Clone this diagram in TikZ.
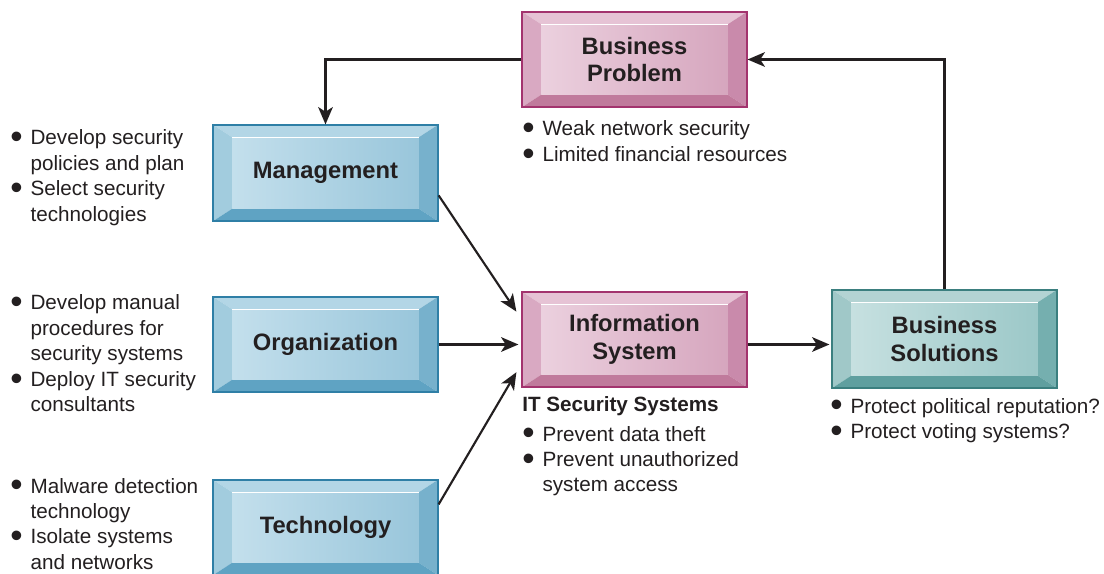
\documentclass[tikz,border=0pt]{standalone}
\usepackage{fontspec}
\setmainfont{Liberation Sans}
\usetikzlibrary{calc,backgrounds,arrows.meta}

\definecolor{ink}{HTML}{231F20}
% pink
\definecolor{pkT}{HTML}{E6C3D5}
\definecolor{pkL}{HTML}{D9A9C2}
\definecolor{pkR}{HTML}{C98AAB}
\definecolor{pkB}{HTML}{C07A9C}
\definecolor{pkFa}{HTML}{EBD0DE}
\definecolor{pkFb}{HTML}{D6A6BE}
\definecolor{pkD}{HTML}{A3336E}
% blue
\definecolor{blT}{HTML}{B3D6E6}
\definecolor{blL}{HTML}{A2CCDE}
\definecolor{blR}{HTML}{77B1CC}
\definecolor{blB}{HTML}{5FA3C3}
\definecolor{blFa}{HTML}{C3DFEC}
\definecolor{blFb}{HTML}{99C6DB}
\definecolor{blD}{HTML}{2F7FA6}
% teal
\definecolor{tlT}{HTML}{B3D3D3}
\definecolor{tlL}{HTML}{A0C8C8}
\definecolor{tlR}{HTML}{75AFAF}
\definecolor{tlB}{HTML}{5F9F9F}
\definecolor{tlFa}{HTML}{C6E0E0}
\definecolor{tlFb}{HTML}{9CC8C8}
\definecolor{tlD}{HTML}{3B7F7F}

\tikzset{
  boxtitle/.style={font=\bfseries\fontsize{17.8pt}{20.5pt}\selectfont, text=ink,
    align=center, inner sep=0pt, line width=0.9pt},
  bodytext/.style={font=\fontsize{15.5pt}{19.1pt}\selectfont, text=ink,
    inner sep=0pt, anchor=base west},
  conn/.style={draw=ink, line width=1.6pt,
    -{Stealth[length=13pt,width=11pt,inset=3.5pt]}}
}

\newcommand\bevbox[6]{%
  \node[boxtitle, draw=#5D, minimum width=#3*0.75pt, minimum height=#4*0.75pt] (#1) at #2 {#6};
  \begin{scope}[on background layer]
    \coordinate (#1-a) at ($(#1.north west)+(20,13)$);
    \coordinate (#1-b) at ($(#1.north east)+(-20,13)$);
    \coordinate (#1-c) at ($(#1.south east)+(-20,-13)$);
    \coordinate (#1-d) at ($(#1.south west)+(20,-13)$);
    \fill[#5T] (#1.north west) -- (#1.north east) -- (#1-b) -- (#1-a) -- cycle;
    \fill[#5L] (#1.north west) -- (#1-a) -- (#1-d) -- (#1.south west) -- cycle;
    \fill[#5R] (#1.north east) -- (#1.south east) -- (#1-c) -- (#1-b) -- cycle;
    \fill[#5B] (#1.south west) -- (#1-d) -- (#1-c) -- (#1.south east) -- cycle;
    \shade[left color=#5Fa, right color=#5Fb] (#1-a) rectangle (#1-c);
    \draw[white, line width=0.8pt] (#1-a) -- (#1-b);
  \end{scope}%
}

\newcommand\bigbul{\smash{\raisebox{-0.18em}{\scalebox{1.7}{\textbullet}}}}
\newcommand\blist[1]{\begin{tabular}[t]{@{}l@{\hspace{6pt}}l@{}}#1\end{tabular}}

\begin{document}
\begin{tikzpicture}[x=0.75pt,y=-0.75pt]
  \useasboundingbox (0,0) rectangle (1104,574);
  \begin{scope}[on background layer]
    \fill[white] (0,0) rectangle (1104,574);
  \end{scope}

  \bevbox{bp}{(634.5,59.5)}{225}{95}{pk}{Business\\Problem}
  \bevbox{mg}{(325.5,173)}{225}{96}{bl}{Management}
  \bevbox{og}{(325.5,344.5)}{225}{95}{bl}{Organization}
  \bevbox{tc}{(325.5,527.5)}{225}{95}{bl}{Technology}
  \bevbox{is}{(634.5,339.5)}{225}{95}{pk}{Information\\System}
  \bevbox{bs}{(944.5,339)}{225}{98}{tl}{Business\\Solutions}

  \node[bodytext] (mgl) at (10,145) {\blist{\bigbul & Develop security\\ & policies and plan\\ \bigbul & Select security\\ & technologies}};
  \node[bodytext] (ogl) at (10,310) {\blist{\bigbul & Develop manual\\ & procedures for\\ & security systems\\ \bigbul & Deploy IT security\\ & consultants}};
  \node[bodytext] (tcl) at (10,493) {\blist{\bigbul & Malware detection\\ & technology\\ \bigbul & Isolate systems\\ & and networks}};
  \node[bodytext] (bpl) at (522,136) {\blist{\bigbul & Weak network security\\ \bigbul & Limited financial resources}};
  \node[bodytext, font=\bfseries\fontsize{15.5pt}{19.1pt}\selectfont] (ish) at (522,411) {IT Security Systems};
  \node[bodytext] (isl) at (522,441) {\blist{\bigbul & Prevent data theft\\ \bigbul & Prevent unauthorized\\ & system access}};
  \node[bodytext] (bsl) at (830,413) {\blist{\bigbul & Protect political reputation?\\ \bigbul & Protect voting systems?}};

  \draw[conn] (bp.west) -| (mg.north);
  \draw[conn] (bs.north) |- (bp.east);
  \draw[conn] ($(mg.north east)!0.73!(mg.south east)$) -- ($(is.north west)!0.21!(is.south west)+(-5,0)$);
  \draw[conn] (og.east) -- ($(og.east -| is.west)+(-3,0)$);
  \draw[conn] ($(tc.north east)!0.26!(tc.south east)$) -- ($(is.north west)!0.84!(is.south west)+(-5,0)$);
  \draw[conn] (is.east |- og.east) -- ($(bs.west |- og.east)+(-2,0)$);
\end{tikzpicture}
\end{document}
